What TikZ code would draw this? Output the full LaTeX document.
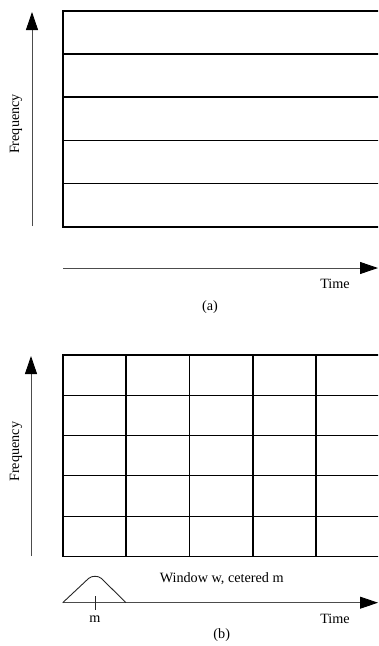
\documentclass[tikz,border=0pt]{standalone}
\usepackage{fontspec}
\setmainfont{Liberation Serif}
\usetikzlibrary{arrows.meta}
\begin{document}
\begin{tikzpicture}[x=1pt,y=-1pt,
  gridline/.style={line width=1.2pt,black},
  axisline/.style={line width=0.9pt,black!70,-{Triangle[length=18pt,width=12pt,black]}},
  lbl/.style={inner sep=0pt,font=\fontsize{14.2}{17}\selectfont},
  thinline/.style={line width=0.9pt,black!85}]
\useasboundingbox (0,0) rectangle (378,646);
\begin{scope}
\clip (0,0) rectangle (378,646);
% panel (a)
\draw[gridline] (400,11) -- (63,11) -- (63,227) -- (400,227);
\foreach \yy in {54,97,140.5,183.5}{\draw[gridline] (63,\yy) -- (400,\yy);}
\coordinate (fa0) at (32,226);
\coordinate (fa1) at (32,12);
\draw[axisline] (fa0) -- (fa1);
\coordinate (ta0) at (63,268);
\coordinate (ta1) at (378,268);
\draw[axisline] (ta0) -- (ta1);
\node[lbl,rotate=90] (freqa) at (16,124) {Frequency};
\node[lbl] (timea) at (335,284) {Time};
\node[lbl] (capa) at (210,307) {(a)};
% panel (b)
\draw[gridline] (400,355) -- (63,355) -- (63,556.3) -- (400,556.3);
\foreach \yy in {395.7,435.7,475.7,516.3}{\draw[gridline] (63,\yy) -- (400,\yy);}
\foreach \xx in {126,189.7,253,316}{\draw[gridline] (\xx,355) -- (\xx,556.3);}
\coordinate (fb0) at (31,556);
\coordinate (fb1) at (31,356);
\draw[axisline] (fb0) -- (fb1);
\coordinate (tb0) at (62.7,602.7);
\coordinate (tb1) at (378,602.7);
\draw[axisline] (tb0) -- (tb1);
\coordinate (wpk) at (95,576);
\draw[thinline] (tb0) -- (88.5,578.5) .. controls (92,575.5) and (98,575.5) .. (101.5,578.5) -- (126,602.7);
\coordinate (tk0) at (95,596);
\coordinate (tk1) at (95,609.5);
\draw[thinline] (tk0) -- (tk1);
\node[lbl,rotate=90] (freqb) at (16,451.7) {Frequency};
\node[lbl] (win) at (221.7,579) {Window w, cetered m};
\node[lbl] (mlab) at (95,619) {m};
\node[lbl] (timeb) at (335,619) {Time};
\node[lbl] (capb) at (221.7,635) {(b)};
\end{scope}
\end{tikzpicture}
\end{document}
